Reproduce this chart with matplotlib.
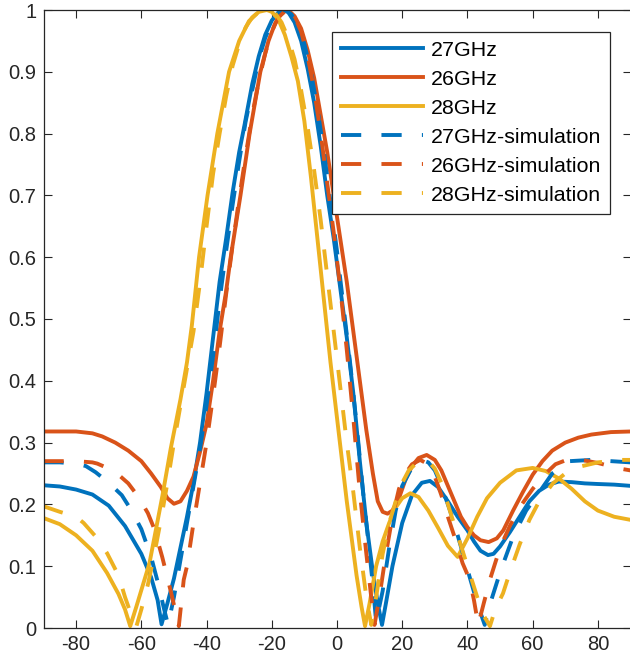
import matplotlib
matplotlib.use("Agg")
import matplotlib.pyplot as plt

plt.rcParams['font.family'] = ['Liberation Sans', 'DejaVu Sans']
plt.rcParams['axes.unicode_minus'] = False

# ---------------- data (angle in degrees, normalized amplitude) ----------------
x_27 = [-90, -85, -80, -75, -70, -65, -60, -57, -55, -53.8, -52, -50, -48, -46, -44, -42, -40, -38, -36, -34,
        -32, -30, -28.5, -26, -24, -22, -20, -18, -16.5, -15, -13, -11, -9, -7, -5, -3, -1, 1, 3, 5,
        7, 9, 11, 12.5, 13.8, 15, 17, 20, 23, 26, 28.5, 31, 34, 37, 40, 42, 44, 46.3, 48, 50,
        53, 56, 59, 62, 65, 68, 72, 76, 80, 85, 90]
y_27 = [0.231, 0.229, 0.224, 0.216, 0.198, 0.165, 0.120, 0.082, 0.045, 0.006, 0.040, 0.080, 0.130, 0.180, 0.235, 0.300, 0.380, 0.470, 0.560, 0.630,
        0.705, 0.770, 0.810, 0.880, 0.925, 0.960, 0.983, 0.996, 1.000, 0.997, 0.980, 0.950, 0.905, 0.850, 0.780, 0.700, 0.630, 0.550, 0.470, 0.380,
        0.270, 0.170, 0.090, 0.040, 0.005, 0.040, 0.100, 0.170, 0.215, 0.235, 0.238, 0.228, 0.205, 0.180, 0.158, 0.140, 0.125, 0.118, 0.120, 0.132,
        0.155, 0.180, 0.205, 0.222, 0.232, 0.237, 0.236, 0.234, 0.233, 0.232, 0.230]

x_26 = [-90, -85, -80, -75, -72, -68, -64, -60, -57, -54, -52, -50, -48, -46, -44, -42, -40, -38, -36, -34,
        -32.6, -29.6, -26.8, -23.5, -21, -19, -17, -15, -13, -11, -9, -7, -5, -3, -1, 1, 3, 5, 7, 9,
        11, 12.5, 14, 15.5, 17, 19, 21, 23, 25, 27.5, 30, 32, 34, 36, 38, 40, 42, 44, 46.5, 49,
        51, 54, 57, 60, 63, 66, 70, 74, 78, 84, 90]
y_26 = [0.318, 0.318, 0.318, 0.315, 0.310, 0.300, 0.287, 0.270, 0.250, 0.228, 0.210, 0.201, 0.205, 0.222, 0.245, 0.285, 0.330, 0.400, 0.480, 0.545,
        0.600, 0.700, 0.800, 0.900, 0.950, 0.978, 0.995, 1.000, 0.990, 0.970, 0.935, 0.890, 0.830, 0.770, 0.700, 0.630, 0.560, 0.480, 0.400, 0.320,
        0.250, 0.205, 0.188, 0.185, 0.190, 0.210, 0.240, 0.262, 0.275, 0.280, 0.272, 0.255, 0.230, 0.205, 0.180, 0.163, 0.150, 0.142, 0.139, 0.145,
        0.158, 0.190, 0.220, 0.248, 0.270, 0.287, 0.300, 0.308, 0.313, 0.317, 0.318]

x_28 = [-90, -85, -80, -75, -70.5, -67, -65, -63.4, -61.5, -59.5, -57.5, -55.5, -53.5, -51, -48, -46, -44.5, -42.3, -39.7, -36.7,
        -33.1, -30, -27, -24, -21.5, -20, -18, -16, -14, -12, -10, -8, -6, -4, -2, 0, 2, 3, 4, 6,
        7.5, 8.6, 10, 12, 14, 16, 18, 20, 22.5, 25, 28, 31, 34, 37, 40, 43, 46, 50, 55, 60,
        64, 68, 72, 76, 80, 85, 90]
y_28 = [0.178, 0.168, 0.150, 0.125, 0.089, 0.055, 0.030, 0.003, 0.035, 0.070, 0.105, 0.160, 0.215, 0.290, 0.370, 0.430, 0.490, 0.600, 0.700, 0.800,
        0.900, 0.950, 0.982, 0.997, 1.000, 0.997, 0.985, 0.960, 0.925, 0.885, 0.820, 0.730, 0.630, 0.530, 0.430, 0.340, 0.250, 0.205, 0.165, 0.085,
        0.035, 0.003, 0.040, 0.100, 0.140, 0.170, 0.195, 0.210, 0.218, 0.212, 0.190, 0.162, 0.133, 0.115, 0.145, 0.180, 0.210, 0.235, 0.255, 0.259,
        0.254, 0.242, 0.225, 0.205, 0.190, 0.180, 0.175]

xs_27 = [-90, -85, -80, -77, -74, -70, -66, -63, -60, -57, -55, -53, -51.8, -50, -48, -46, -44, -42, -40, -38,
         -36, -34, -32, -30, -28, -26, -24, -22, -20, -18, -16, -14, -12, -10, -8, -6, -4, -2, 0, 2,
         4, 6, 8, 10, 11, 12, 14, 16, 18, 20, 23, 26, 28, 30, 32, 34.6, 37, 40, 43, 45.3,
         47, 50, 54, 58, 62.2, 66, 71.4, 78, 84, 90]
ys_27 = [0.268, 0.268, 0.266, 0.262, 0.252, 0.235, 0.215, 0.190, 0.160, 0.115, 0.075, 0.030, 0.005, 0.050, 0.110, 0.170, 0.230, 0.290, 0.360, 0.440,
         0.530, 0.610, 0.685, 0.755, 0.820, 0.870, 0.920, 0.955, 0.980, 0.995, 1.000, 0.993, 0.975, 0.945, 0.900, 0.840, 0.770, 0.690, 0.610, 0.520,
         0.430, 0.330, 0.220, 0.120, 0.070, 0.010, 0.060, 0.130, 0.190, 0.230, 0.260, 0.272, 0.268, 0.255, 0.230, 0.191, 0.150, 0.095, 0.040, 0.005,
         0.040, 0.090, 0.148, 0.190, 0.221, 0.250, 0.270, 0.272, 0.270, 0.268]

xs_26 = [-90, -85, -80, -75, -73.5, -70, -67, -64, -61, -58, -56, -53.6, -51, -49, -48.5, -47, -46, -44, -42, -40,
         -38, -36, -34, -32, -30, -28, -26, -24, -22, -20, -18, -15.5, -13, -11, -9, -7, -5, -3, -1, 1,
         3, 5, 7, 9, 10.5, 11.5, 13, 15, 17, 19, 21, 23, 25.5, 28, 30, 32, 34, 36.7, 38.5, 40.7,
         42, 43.3, 45, 47, 50, 53, 56, 60, 64, 67, 70.4, 75, 80, 86.7, 90]
ys_26 = [0.270, 0.270, 0.270, 0.268, 0.266, 0.258, 0.248, 0.234, 0.213, 0.186, 0.160, 0.115, 0.060, 0.015, 0.003, 0.078, 0.100, 0.170, 0.235, 0.300,
         0.375, 0.455, 0.540, 0.620, 0.695, 0.765, 0.830, 0.885, 0.930, 0.965, 0.988, 1.000, 0.990, 0.965, 0.925, 0.870, 0.800, 0.720, 0.640, 0.550,
         0.450, 0.340, 0.220, 0.120, 0.050, 0.005, 0.050, 0.120, 0.180, 0.225, 0.250, 0.265, 0.272, 0.265, 0.245, 0.215, 0.180, 0.137, 0.105, 0.078,
         0.045, 0.005, 0.040, 0.080, 0.130, 0.165, 0.195, 0.225, 0.250, 0.265, 0.272, 0.272, 0.267, 0.258, 0.255]

xs_28 = [-90, -85, -80, -77.7, -74, -70.5, -67, -65, -63, -61.5, -60, -58, -56, -54, -52, -50, -48, -46, -44, -42,
         -40, -38, -36, -34, -32, -30, -28, -26, -24, -21, -19, -17, -15, -13, -11, -9, -7, -5, -3, -1,
         1, 3, 5, 7, 9, 10.5, 12, 14, 16, 18, 20, 22, 25, 28, 30, 32, 34.6, 37, 40, 43,
         45, 46.9, 48.5, 50.9, 53, 56, 59, 62, 66.2, 70, 74.4, 80, 86.7, 90]
ys_28 = [0.197, 0.188, 0.180, 0.170, 0.148, 0.121, 0.085, 0.050, 0.020, 0.003, 0.030, 0.070, 0.120, 0.175, 0.235, 0.300, 0.360, 0.420, 0.480, 0.560,
         0.650, 0.735, 0.800, 0.860, 0.910, 0.945, 0.972, 0.988, 0.997, 1.000, 0.995, 0.980, 0.955, 0.920, 0.870, 0.810, 0.740, 0.660, 0.570, 0.480,
         0.390, 0.300, 0.220, 0.130, 0.050, 0.005, 0.050, 0.120, 0.170, 0.205, 0.235, 0.255, 0.270, 0.270, 0.258, 0.235, 0.190, 0.150, 0.100, 0.050,
         0.020, 0.003, 0.030, 0.056, 0.090, 0.135, 0.175, 0.205, 0.234, 0.250, 0.261, 0.268, 0.272, 0.272]

labels = ['27GHz', '26GHz', '28GHz', '27GHz-simulation', '26GHz-simulation', '28GHz-simulation']
x_ticks = [-80, -60, -40, -20, 0, 20, 40, 60, 80]
y_ticks = [0, 0.1, 0.2, 0.3, 0.4, 0.5, 0.6, 0.7, 0.8, 0.9, 1]
y_tick_labels = ['0', '0.1', '0.2', '0.3', '0.4', '0.5', '0.6', '0.7', '0.8', '0.9', '1']

# ---------------- figure ----------------
W, H = 630, 661
fig = plt.figure(figsize=(W / 100, H / 100), dpi=100)
ax = fig.add_axes([43.5 / W, 33 / H, 587 / W, 618 / H])

c_blue, c_red, c_yel = '#0072BD', '#D95319', '#EDB120'
lw = 2.8
dash = (5.2, 5.2)

series = [
    (x_27, y_27, c_blue, '-'),
    (x_26, y_26, c_red, '-'),
    (x_28, y_28, c_yel, '-'),
    (xs_27, ys_27, c_blue, '--'),
    (xs_26, ys_26, c_red, '--'),
    (xs_28, ys_28, c_yel, '--'),
]
for (xx, yy, col, ls), lab in zip(series, labels):
    line, = ax.plot(xx, yy, color=col, lw=lw, ls=ls, label=lab, solid_joinstyle='round')
    if ls == '--':
        line.set_dashes(dash)

ax.set_xlim(-90, 90)
ax.set_ylim(0, 1)
ax.set_xticks(x_ticks)
ax.set_yticks(y_ticks)
ax.set_yticklabels(y_tick_labels)
ax.tick_params(direction='in', length=6, width=0.8, top=True, right=True,
               labelsize=14.5, colors='#262626', pad=5)
for s in ax.spines.values():
    s.set_color('#262626')
    s.set_linewidth(0.9)

leg = ax.legend(loc='upper right', bbox_to_anchor=(0.965, 0.965), borderaxespad=0,
                fontsize=15.4, handlelength=3.85, handletextpad=0.35, labelspacing=0.47,
                fancybox=False, framealpha=1, edgecolor='#262626', borderpad=0.42)
leg.get_frame().set_linewidth(0.9)

fig.savefig('out.png', dpi=100)
